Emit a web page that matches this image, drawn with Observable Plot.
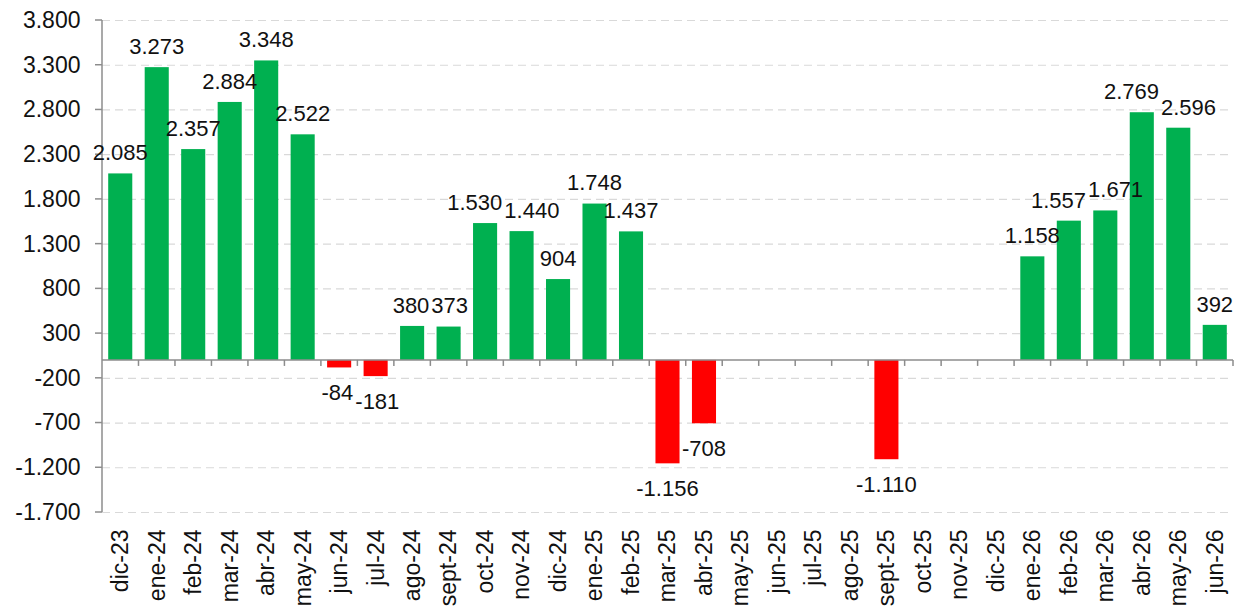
<!DOCTYPE html>
<html><head><meta charset="utf-8">
<script src="https://cdn.jsdelivr.net/npm/d3@7"></script>
<script src="https://cdn.jsdelivr.net/npm/@observablehq/plot@0.6"></script>
<style>body{margin:0;background:#fff}</style>
</head><body><div id="chart"></div>
<script>
const categories = ["dic-23","ene-24","feb-24","mar-24","abr-24","may-24","jun-24","jul-24","ago-24","sept-24","oct-24","nov-24","dic-24","ene-25","feb-25","mar-25","abr-25","may-25","jun-25","jul-25","ago-25","sept-25","oct-25","nov-25","dic-25","ene-26","feb-26","mar-26","abr-26","may-26","jun-26"];
const values = [2085,3273,2357,2884,3348,2522,-84,-181,380,373,1530,1440,904,1748,1437,-1156,-708,null,null,null,null,-1110,null,null,null,1158,1557,1671,2769,2596,392];
const yTicks = [-1700,-1200,-700,-200,300,800,1300,1800,2300,2800,3300,3800];

const GREEN = "#00B050", RED = "#FF0000", AXIS = "#8c8c8c", GRID = "#d9d9d9", TEXT = "#111";
const FONT = "'Liberation Sans', Arial, sans-serif";
const locale = d3.formatLocale({decimal: ",", thousands: ".", grouping: [3], currency: ["", ""], minus: "-"});
const fmt = locale.format(",d");
const data = categories.map((c, i) => ({cat: c, value: values[i]})).filter(d => d.value != null);
const pos = data.filter(d => d.value >= 0), neg = data.filter(d => d.value < 0);

const axes = (index, scales, vals, dims) => {
  const {x, y} = scales;
  const left = dims.marginLeft, right = dims.width - dims.marginRight;
  const top = dims.marginTop, bottom = dims.height - dims.marginBottom;
  const g = d3.create("svg:g").attr("stroke", AXIS).attr("stroke-width", 1.5).attr("fill", "none");
  g.append("line").attr("x1", left).attr("x2", left).attr("y1", top).attr("y2", bottom);
  for (const t of yTicks) g.append("line").attr("x1", left - 7).attr("x2", left).attr("y1", y(t)).attr("y2", y(t));
  const y0 = y(0);
  g.append("line").attr("x1", left).attr("x2", right).attr("y1", y0).attr("y2", y0);
  const bw = typeof x.bandwidth === "function" ? x.bandwidth() : (x.bandwidth || 0);
  const step = x(categories[1]) - x(categories[0]);
  const centers = categories.map(c => x(c) + bw / 2);
  const bounds = centers.map(c => c - step / 2).concat([centers[centers.length - 1] + step / 2]);
  for (const b of bounds.slice(1)) g.append("line").attr("x1", b).attr("x2", b).attr("y1", y0).attr("y2", y0 + 6);
  return g.node();
};

// value labels: outside end of each bar, nudged sideways where neighbours collide
const valueLabels = (index, scales) => {
  const {x, y} = scales;
  const bw = typeof x.bandwidth === "function" ? x.bandwidth() : (x.bandwidth || 0);
  const ctx = document.createElement("canvas").getContext("2d");
  ctx.font = "22px " + FONT;
  const L = data.map(d => {
    const t = fmt(d.value);
    return {t, x: x(d.cat) + bw / 2, y: d.value >= 0 ? y(d.value) - 21 : y(d.value) + 25, w: ctx.measureText(t).width, h: 17};
  });
  for (let it = 0; it < 60; it++) {
    let moved = false;
    for (let i = 0; i < L.length; i++) for (let j = i + 1; j < L.length; j++) {
      const a = L[i], b = L[j];
      const ox = (a.w + b.w) / 2 + 2 - Math.abs(a.x - b.x);
      const oy = (a.h + b.h) / 2 - Math.abs(a.y - b.y);
      if (ox > 0.5 && oy > 0) {
        const s = a.x <= b.x ? 1 : -1;
        a.x -= s * ox / 2; b.x += s * ox / 2; moved = true;
      }
    }
    if (!moved) break;
  }
  const g = d3.create("svg:g").attr("font-family", FONT).attr("font-size", 22).attr("fill", TEXT).attr("text-anchor", "middle");
  for (const l of L) g.append("text").attr("x", l.x).attr("y", l.y).attr("dy", "0.36em").text(l.t);
  return g.node();
};

const chart = Plot.plot({
  width: 1243,
  height: 610,
  marginLeft: 102,
  marginRight: 10,
  marginTop: 20,
  marginBottom: 98,
  style: {fontFamily: FONT, fontSize: "22px", color: TEXT, background: "#fff"},
  x: {domain: categories, paddingInner: 0.34, paddingOuter: 0.17, round: false, axis: null},
  y: {domain: [-1700, 3800], nice: false, axis: null},
  marks: [
    Plot.gridY(yTicks, {stroke: GRID, strokeOpacity: 1, strokeWidth: 1.2, strokeDasharray: "8,5"}),
    Plot.barY(pos, {x: "cat", y: "value", fill: GREEN}),
    Plot.barY(neg, {x: "cat", y: "value", fill: RED}),
    axes,
    Plot.axisY(yTicks, {label: null, tickSize: 0, tickPadding: 22, tickFormat: fmt, fontSize: 23, fill: TEXT}),
    valueLabels,
    Plot.text(categories, {x: d => d, frameAnchor: "bottom", rotate: -90, textAnchor: "end", lineAnchor: "middle", dy: 17, fontSize: 23, fill: TEXT})
  ]
});
document.getElementById("chart").appendChild(chart);
</script>
</body></html>
